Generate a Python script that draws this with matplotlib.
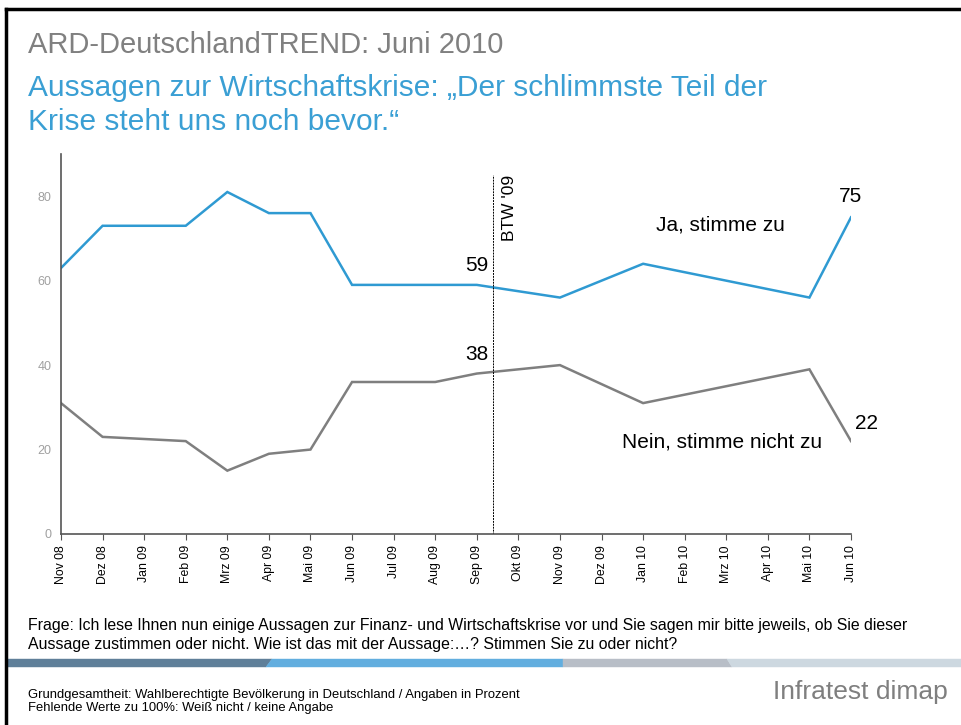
import numpy as np
import matplotlib.pyplot as plt
from matplotlib.patches import Polygon

plt.rcParams['font.family'] = ['Liberation Sans', 'DejaVu Sans']

months = ['Nov 08', 'Dez 08', 'Jan 09', 'Feb 09', 'Mrz 09', 'Apr 09', 'Mai 09',
          'Jun 09', 'Jul 09', 'Aug 09', 'Sep 09', 'Okt 09', 'Nov 09', 'Dez 09',
          'Jan 10', 'Feb 10', 'Mrz 10', 'Apr 10', 'Mai 10', 'Jun 10']

# survey months actually measured
ja_months = ['Nov 08', 'Dez 08', 'Feb 09', 'Mrz 09', 'Apr 09', 'Mai 09', 'Jun 09',
             'Sep 09', 'Nov 09', 'Jan 10', 'Mai 10', 'Jun 10']
ja_values = [63, 73, 73, 81, 76, 76, 59, 59, 56, 64, 56, 75]

nein_months = ['Nov 08', 'Dez 08', 'Feb 09', 'Mrz 09', 'Apr 09', 'Mai 09', 'Jun 09',
               'Aug 09', 'Sep 09', 'Nov 09', 'Jan 10', 'Mai 10', 'Jun 10']
nein_values = [31, 23, 22, 15, 19, 20, 36, 36, 38, 40, 31, 39, 22]

btw_pos = 10.4  # Bundestagswahl, end of Sep 09

blue = '#2f9ad2'
grey = '#7f7f7f'

fig = plt.figure(figsize=(9.61, 7.25), dpi=100)

# frame lines (top + left)
fig.add_artist(plt.Line2D([6 / 961, 1], [1 - 9 / 725, 1 - 9 / 725], color='black', lw=2.5))
fig.add_artist(plt.Line2D([6 / 961, 6 / 961], [1 - 9 / 725, 0], color='black', lw=2.5))

# titles
fig.text(28 / 961, 1 - 45 / 725, 'ARD-DeutschlandTREND: Juni 2010', color='#808080',
         fontsize=21, va='center')
fig.text(28 / 961, 1 - 105 / 725,
         'Aussagen zur Wirtschaftskrise: \u201eDer schlimmste Teil der\nKrise steht uns noch bevor.\u201c',
         color='#3a9fd4', fontsize=21.5, va='center', linespacing=1.25)

ax = fig.add_axes([61 / 961, 1 - 534 / 725, 790 / 961, (534 - 154) / 725])
x_ja = [months.index(m) for m in ja_months]
x_nein = [months.index(m) for m in nein_months]
ax.plot(x_ja, ja_values, color=blue, lw=1.8, solid_joinstyle='miter')
ax.plot(x_nein, nein_values, color=grey, lw=1.8, solid_joinstyle='miter')

ax.set_xlim(0, len(months) - 1)
ax.set_ylim(0, 90)
ax.set_xticks(range(len(months)))
ax.set_xticklabels(months, rotation=90, fontsize=8.8)
ax.set_yticks([0, 20, 40, 60, 80])
ax.tick_params(axis='y', length=0, labelcolor='#a0a0a0', labelsize=9, pad=7)
ax.tick_params(axis='x', length=4, color='#555555', pad=4)
for s in ['top', 'right']:
    ax.spines[s].set_visible(False)
for s in ['left', 'bottom']:
    ax.spines[s].set_color('#555555')
    ax.spines[s].set_linewidth(1.2)

# election marker
ax.plot([btw_pos, btw_pos], [0, 85], color='black', lw=0.7, ls=(0, (2, 1)))
ax.text(btw_pos + 0.38, 85, "BTW '09", rotation=90, ha='center', va='top', fontsize=12.5)

# value labels
fs = 15
ax.text(x_ja[7], ja_values[7] + 2.3, str(ja_values[7]), ha='center', va='bottom', fontsize=fs)
ax.text(x_nein[8], nein_values[8] + 2.3, str(nein_values[8]), ha='center', va='bottom', fontsize=fs)
ax.text(x_ja[-1], ja_values[-1] + 2.8, str(ja_values[-1]), ha='center', va='bottom', fontsize=fs)
ax.text(x_nein[-1] + 0.38, nein_values[-1] + 2.0, str(nein_values[-1]), ha='center', va='bottom', fontsize=fs)
ax.text(15.85, 73.3, 'Ja, stimme zu', ha='center', va='center', fontsize=fs)
ax.text(15.9, 21.7, 'Nein, stimme nicht zu', ha='center', va='center', fontsize=fs)

# question text
fig.text(28 / 961, 1 - 635 / 725,
         'Frage: Ich lese Ihnen nun einige Aussagen zur Finanz- und Wirtschaftskrise vor und Sie sagen mir bitte jeweils, ob Sie dieser\n'
         'Aussage zustimmen oder nicht. Wie ist das mit der Aussage:\u2026? Stimmen Sie zu oder nicht?',
         fontsize=11.4, va='center', linespacing=1.4)

# coloured band, boundaries given as (top, bottom) pixel x
band_top, band_bot = 1 - 659 / 725, 1 - 667 / 725
bounds = [(7, 7), (272, 266), (563, 563), (727, 732), (961, 961)]
band_colors = ['#5f7f99', '#62aedf', '#b8bec7', '#cdd8e0']
for (lt, lb), (rt, rb), c in zip(bounds[:-1], bounds[1:], band_colors):
    fig.add_artist(Polygon([(lt / 961, band_top), (rt / 961, band_top),
                            (rb / 961, band_bot), (lb / 961, band_bot)],
                           closed=True, facecolor=c, edgecolor=c, lw=0.3))

# footer
fig.text(28 / 961, 1 - 701.5 / 725,
         'Grundgesamtheit: Wahlberechtigte Bev\u00f6lkerung in Deutschland / Angaben in Prozent\n'
         'Fehlende Werte zu 100%: Wei\u00df nicht / keine Angabe',
         fontsize=9.4, va='center', linespacing=1.15)
fig.text(948 / 961, 1 - 692 / 725, 'Infratest dimap', color='#7f7f7f', fontsize=19,
         ha='right', va='center')

fig.savefig('out.png', dpi=100)
